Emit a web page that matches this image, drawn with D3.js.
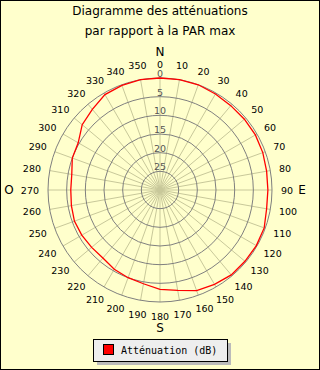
<!DOCTYPE html>
<html><head><meta charset="utf-8">
<script src="https://cdn.jsdelivr.net/npm/d3@7"></script>
<style>
html,body{margin:0;padding:0;background:#fff;}
svg{display:block;}
</style></head>
<body>
<svg id="chart" width="320" height="370"></svg>
<script>
// ---- data ----
const titleLines = ["Diagramme des atténuations", "par rapport à la PAR max"];
const angles = d3.range(0, 360, 10);
const attenuation = [0, 0, 0, 0.3, 0.5, 0.5, 0.5, 0.7, 1.0, 1.1, 1.0, 0.3,
                     0.2, 0.3, 0.3, 0.8, 1.3, 2.7, 3.4, 4.5, 5.0, 5.5, 6.2, 6.1,
                     5.8, 5.6, 5.9, 6.1, 6.0, 5.0, 4.7, 2.8, 1.8, 0.5, 0.2, 0];
const radialTicks = [0, 5, 10, 15, 20, 25];
const cardinals = [{t:"N", a:0}, {t:"E", a:90}, {t:"S", a:180}, {t:"O", a:270}];
const legendLabel = "Atténuation (dB)";

// ---- layout ----
const W = 320, H = 370, cx = 160, cy = 190, R = 112;
const svg = d3.select("#chart");
svg.append("rect").attr("x",0.5).attr("y",0.5).attr("width",W-1).attr("height",H-1)
   .attr("fill","#ffffcc").attr("stroke","#000");

svg.selectAll("text.title").data(titleLines).join("text")
  .attr("class","title").attr("x",cx).attr("y",(d,i)=>15+i*20)
  .attr("text-anchor","middle").attr("font-family","DejaVu Sans").attr("font-size","12px")
  .attr("fill","#000").text(d=>d);

const r = d3.scaleLinear().domain([0, 30]).range([R, 0]);
const g = svg.append("g").attr("transform",`translate(${cx},${cy})`);
const rad = a => a*Math.PI/180;

// spokes
g.selectAll("line.spoke").data(angles).join("line")
  .attr("class","spoke")
  .attr("x1",0).attr("y1",0)
  .attr("x2",a=>R*Math.sin(rad(a))).attr("y2",a=>-R*Math.cos(rad(a)))
  .attr("stroke","#c8c89a").attr("stroke-width",1);

// circles
g.selectAll("circle.ring").data(radialTicks).join("circle")
  .attr("class","ring").attr("r",d=>r(d)).attr("fill","none")
  .attr("stroke","#7f7f7f").attr("stroke-width",1);

// radial tick labels
g.selectAll("text.rt").data(radialTicks).join("text")
  .attr("class","rt").attr("x",0).attr("y",d=>-r(d)-1)
  .attr("text-anchor","middle").attr("font-family","DejaVu Sans").attr("font-size","9.5px")
  .attr("fill","#555").text(d=>d);

// angle labels
const LR = 121;
g.selectAll("text.al").data(angles).join("text")
  .attr("class","al")
  .attr("font-family","DejaVu Sans").attr("font-size","9.5px").attr("fill","#000")
  .attr("text-anchor","middle").attr("dominant-baseline","central")
  .text(a=>a)
  .each(function(a){
    const w = this.getComputedTextLength(), h = 10;
    const s = Math.sin(rad(a)), c = Math.cos(rad(a));
    d3.select(this).attr("x", LR*s + s*w/2).attr("y", -LR*c - c*h/2);
  });

// cardinal letters
const cardPos = {N:[0,-138], E:[142,0], S:[0,138], O:[-151,0]};
g.selectAll("text.card").data(cardinals).join("text")
  .attr("class","card").attr("x",d=>cardPos[d.t][0]).attr("y",d=>cardPos[d.t][1])
  .attr("text-anchor","middle").attr("dominant-baseline","central")
  .attr("font-family","DejaVu Sans").attr("font-size","12px").attr("fill","#000")
  .text(d=>d.t);

// data line
const pts = angles.map((a,i)=>({a, v: attenuation[i]}));
const line = d3.lineRadial().angle(d=>rad(d.a)).radius(d=>r(d.v)).curve(d3.curveLinearClosed);
g.append("path").attr("d", line(pts)).attr("fill","none")
  .attr("stroke","#ff0000").attr("stroke-width",1.3);

// legend
const lg = svg.append("g");
lg.append("rect").attr("x",97).attr("y",343).attr("width",134).attr("height",22).attr("fill","#bbbbbb");
lg.append("rect").attr("x",93.5).attr("y",339.5).attr("width",134).attr("height",22)
  .attr("fill","#eeeeee").attr("stroke","#000");
lg.append("rect").attr("x",103.5).attr("y",344.5).attr("width",10).attr("height",10)
  .attr("fill","#ff0000").attr("stroke","#000");
lg.append("text").attr("x",121).attr("y",354).attr("font-family","DejaVu Sans Mono")
  .attr("font-size","10px").attr("fill","#000").text(legendLabel);
</script>
</body></html>
